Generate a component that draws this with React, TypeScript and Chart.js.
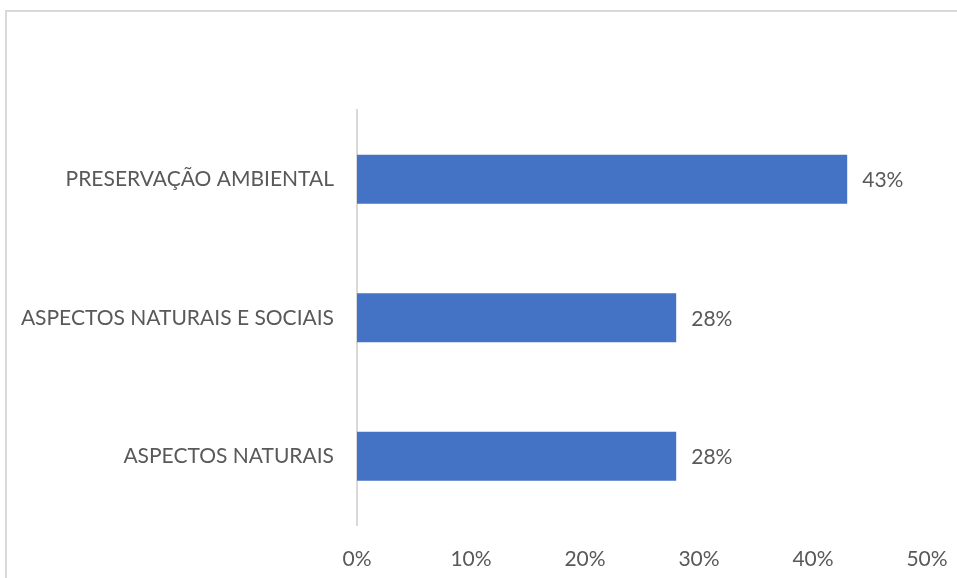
import React, { useEffect, useRef } from "react";
import { Chart, registerables } from "chart.js";

Chart.register(...registerables);

const categories = ["PRESERVAÇÃO AMBIENTAL", "ASPECTOS NATURAIS E SOCIAIS", "ASPECTOS NATURAIS"];
const values = [0.43, 0.28, 0.28];
const valueLabels = ["43%", "28%", "28%"];
const xTicks = [0, 0.1, 0.2, 0.3, 0.4, 0.5];

const FONT = "Lato";
const FS = 21;
const TEXT = "#595959";

const framePlugin = {
  id: "frame",
  beforeDraw(chart: any) {
    const ctx = chart.ctx;
    ctx.save();
    ctx.fillStyle = "#ffffff";
    ctx.fillRect(0, 0, chart.width, chart.height);
    ctx.strokeStyle = "#d9d9d9";
    ctx.lineWidth = 2;
    ctx.beginPath();
    ctx.moveTo(6, chart.height + 5);
    ctx.lineTo(6, 11);
    ctx.lineTo(chart.width + 5, 11);
    ctx.stroke();
    ctx.restore();
  },
};

const labelPlugin = {
  id: "valueLabels",
  afterDatasetsDraw(chart: any) {
    const ctx = chart.ctx;
    const meta = chart.getDatasetMeta(0);
    ctx.save();
    ctx.font = `${FS}px ${FONT}`;
    ctx.fillStyle = TEXT;
    ctx.textAlign = "left";
    ctx.textBaseline = "middle";
    meta.data.forEach((bar: any, i: number) => {
      ctx.fillText(valueLabels[i], bar.x + 15, bar.y + 1);
    });
    ctx.restore();
  },
};

export default function App() {
  const ref = useRef<HTMLCanvasElement>(null);
  useEffect(() => {
    document.body.style.margin = "0";
    const chart = new Chart(ref.current!, {
      type: "bar",
      data: {
        labels: categories,
        datasets: [
          {
            data: values,
            backgroundColor: "#4472c4",
            borderWidth: 0,
            barPercentage: 0.355,
            categoryPercentage: 1,
          },
        ],
      },
      options: {
        indexAxis: "y",
        animation: false,
        responsive: false,
        maintainAspectRatio: false,
        layout: { padding: { top: 110, right: 30, left: 0, bottom: 0 } },
        plugins: { legend: { display: false }, tooltip: { enabled: false } },
        scales: {
          x: {
            min: 0,
            max: 0.5,
            afterBuildTicks(scale: any) {
              scale.ticks = xTicks.map((v) => ({ value: v }));
            },
            afterFit(scale: any) {
              scale.height = 52.5;
              scale.paddingLeft = 0;
              scale.paddingRight = 0;
            },
            grid: { display: false, drawTicks: false },
            border: { display: false },
            ticks: {
              padding: 21,
              color: TEXT,
              font: { family: FONT, size: FS },
              maxRotation: 0,
              callback: (v: any) => Math.round(Number(v) * 100) + "%",
            },
          },
          y: {
            afterFit(scale: any) {
              scale.width = 357;
              scale.paddingTop = 0;
              scale.paddingBottom = 0;
            },
            grid: { display: false, drawTicks: false },
            border: { display: true, color: "#d9d9d9", width: 2 },
            ticks: {
              padding: 23,
              color: TEXT,
              font: { family: FONT, size: FS },
            },
          },
        },
      },
      plugins: [framePlugin, labelPlugin],
    });
    return () => chart.destroy();
  }, []);
  return (
    <div style={{ position: "absolute", left: 0, top: 0, width: 957, height: 578 }}>
      <canvas ref={ref} width={957} height={578} style={{ width: 957, height: 578 }} />
    </div>
  );
}
